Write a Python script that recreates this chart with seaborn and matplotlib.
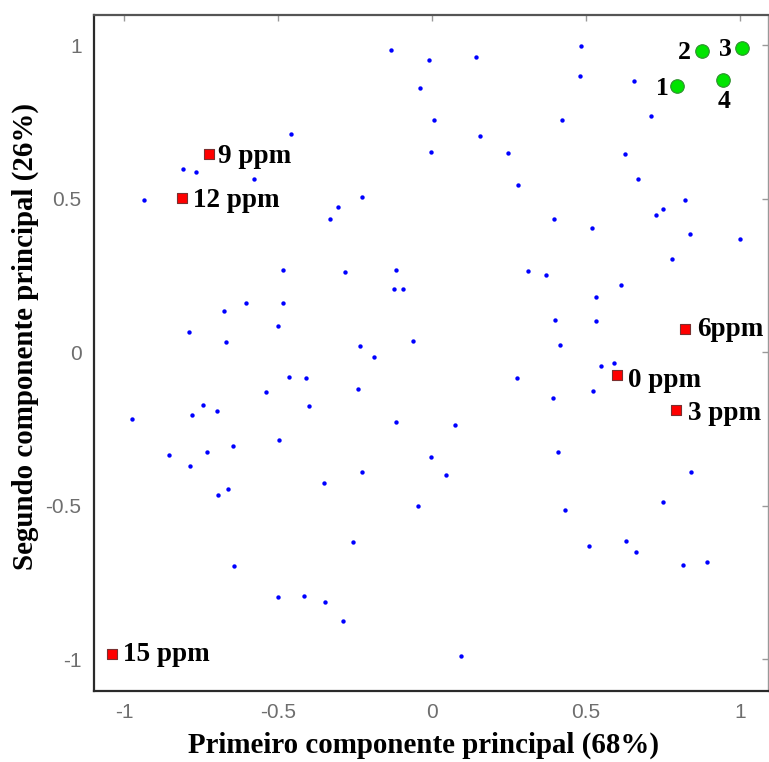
import matplotlib
matplotlib.use('Agg')
import matplotlib.pyplot as plt
import seaborn as sns
import pandas as pd

# loadings (blue dots)
blue_x = [-0.133, -0.459, -0.809, -0.765, -0.577, -0.935, -0.331, -0.304, -0.228, -0.483,
          -0.281, -0.115, -0.123, -0.094, -0.605, -0.483, -0.676, -0.500, -0.788, -0.668,
          -0.235, -0.187, -0.464, -0.409, -0.011, 0.143, 0.485, 0.482, -0.040, 0.657,
          0.008, 0.422, 0.712, 0.157, -0.004, 0.246, 0.627, 0.280, 0.670, 0.820,
          0.751, 0.729, 0.396, 0.521, 0.837, 1.000, 0.780, 0.312, 0.371, 0.615,
          0.534, 0.400, 0.534, -0.061, 0.416, 0.550, 0.592, 0.275, -0.240, -0.540,
          -0.744, -0.400, -0.780, -0.699, -0.974, -0.115, -0.496, -0.645, -0.855, -0.730,
          -0.785, -0.226, -0.351, -0.661, -0.695, -0.256, -0.642, -0.501, -0.415, -0.347,
          -0.290, 0.393, 0.523, 0.076, -0.003, 0.408, 0.047, 0.841, -0.046, 0.432,
          0.751, 0.509, 0.631, 0.662, 0.816, 0.894, 0.096]
blue_y = [0.984, 0.709, 0.596, 0.586, 0.563, 0.496, 0.435, 0.474, 0.506, 0.267,
          0.260, 0.267, 0.204, 0.207, 0.159, 0.161, 0.134, 0.084, 0.064, 0.032,
          0.021, -0.015, -0.081, -0.085, 0.951, 0.962, 0.997, 0.899, 0.859, 0.882,
          0.756, 0.757, 0.770, 0.704, 0.652, 0.648, 0.646, 0.544, 0.565, 0.494,
          0.465, 0.445, 0.433, 0.404, 0.385, 0.368, 0.302, 0.265, 0.251, 0.220,
          0.180, 0.106, 0.102, 0.036, 0.023, -0.046, -0.034, -0.085, -0.121, -0.129,
          -0.172, -0.176, -0.206, -0.192, -0.217, -0.229, -0.288, -0.305, -0.334, -0.325,
          -0.370, -0.392, -0.427, -0.447, -0.467, -0.619, -0.697, -0.797, -0.794, -0.813,
          -0.875, -0.151, -0.127, -0.238, -0.341, -0.325, -0.402, -0.392, -0.502, -0.514,
          -0.488, -0.631, -0.617, -0.650, -0.694, -0.685, -0.989]

# concentration scores (red squares)
conc_labels = ['9 ppm', '12 ppm', '15 ppm', '6ppm', '0 ppm', '3 ppm']
conc_x = [-0.724, -0.811, -1.037, 0.821, 0.602, 0.792]
conc_y = [0.644, 0.501, -0.984, 0.074, -0.075, -0.189]

# sample scores (green circles)
sample_labels = ['1', '2', '3', '4']
sample_x = [0.794, 0.878, 1.005, 0.945]
sample_y = [0.866, 0.981, 0.991, 0.886]

sns.set_style('white')
plt.rcParams['font.family'] = ['Liberation Serif', 'DejaVu Serif']
plt.rcParams['text.color'] = 'black'

fig = plt.figure(figsize=(7.69, 7.62), dpi=100)
ax = fig.add_axes([94 / 769, 1 - 691 / 762, 674 / 769, 676 / 762])

sns.scatterplot(x=blue_x, y=blue_y, ax=ax, color='#0000ff', s=10,
                linewidth=0, zorder=2)
sns.scatterplot(x=conc_x, y=conc_y, ax=ax, color='#ff0000', marker='s', s=62,
                edgecolor='#7a3030', linewidth=0.8, zorder=3)
sns.scatterplot(x=sample_x, y=sample_y, ax=ax, color='#00e400', marker='o', s=95,
                edgecolor='#2f8f2f', linewidth=0.8, zorder=3)

# label offsets in pixels (dx, dy) and alignment
conc_off = [(9, -9), (11, -9), (11, -7), (12, -7), (11, -12), (12, -10)]
for lab, x, y, off in zip(conc_labels, conc_x, conc_y, conc_off):
    ax.annotate(lab, (x, y), xytext=off, textcoords='offset pixels', color='black',
                ha='left', va='baseline', fontsize=19.5, fontweight='bold', zorder=4)

sample_off = [(-8, -9, 'right'), (-12, -8, 'right'), (-10, -8, 'right'), (1, -28, 'center')]
for lab, x, y, off in zip(sample_labels, sample_x, sample_y, sample_off):
    ax.annotate(lab, (x, y), xytext=off[:2], textcoords='offset pixels', color='black',
                ha=off[2], va='baseline', fontsize=18.5, fontweight='bold', zorder=4)

ax.set_xlim(-1.097, 1.091)
ax.set_ylim(-1.104, 1.098)
ax.set_xticks([-1, -0.5, 0, 0.5, 1])
ax.set_yticks([-1, -0.5, 0, 0.5, 1])
ax.set_xticklabels(['-1', '-0.5', '0', '0.5', '1'])
ax.set_yticklabels(['-1', '-0.5', '0', '0.5', '1'])
ax.tick_params(direction='in', length=4, width=1, color='#999999',
               top=True, right=True, labelsize=15, labelcolor='#6e6e6e', pad=9)
for t in ax.get_xticklabels() + ax.get_yticklabels():
    t.set_family(['Liberation Sans', 'DejaVu Sans'])
for sp in ax.spines.values():
    sp.set_color('#2a2a2a')
    sp.set_linewidth(1.6)
ax.spines['top'].set_color('#555555')
ax.spines['right'].set_color('#999999')
ax.spines['right'].set_linewidth(1.0)

fig.text(424 / 769, 1 - 745 / 762, 'Primeiro componente principal (68%)', color='black',
         ha='center', va='center', fontsize=20.8, fontweight='bold')
fig.text(25 / 769, 1 - 336 / 762, 'Segundo componente principal (26%)', color='black',
         ha='center', va='center', rotation=90, fontsize=20.8, fontweight='bold')

fig.savefig('out.png', dpi=100)
